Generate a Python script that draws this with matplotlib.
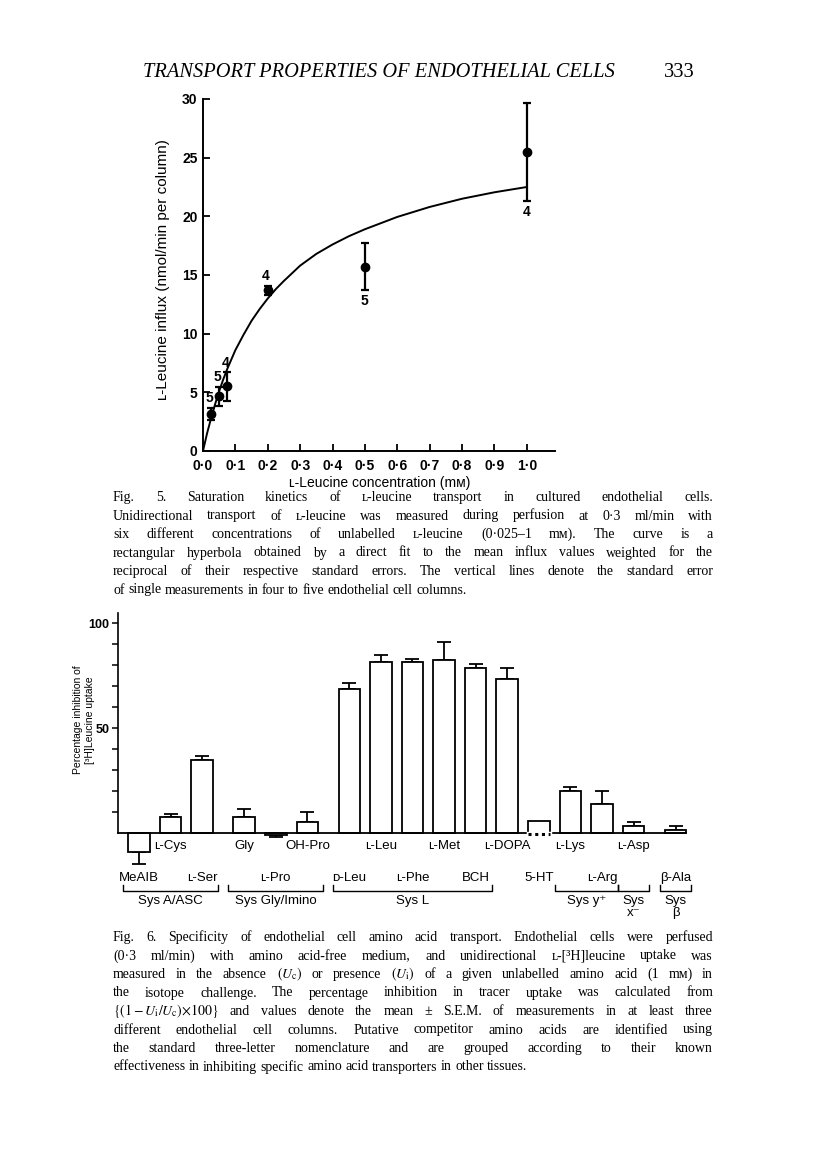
import matplotlib
matplotlib.use("Agg")
import matplotlib.pyplot as plt
import matplotlib.transforms as mtrans
from matplotlib.font_manager import FontProperties

W, H = 816, 1169
SANS = ['Liberation Sans', 'DejaVu Sans']
SERIF = ['Liberation Serif', 'DejaVu Serif', 'DejaVu Sans']
plt.rcParams['font.family'] = SANS
plt.rcParams['mathtext.fontset'] = 'stix'

# ---- Fig. 5: L-leucine influx vs concentration
conc = [0.025, 0.05, 0.075, 0.2, 0.5, 1.0]
influx = [3.15, 4.65, 5.5, 13.7, 15.7, 25.5]
influx_se = [0.55, 0.8, 1.2, 0.4, 2.0, 4.2]
n_columns = [5, 5, 4, 4, 5, 4]
# fitted hyperbola
fit_conc = [0, 0.0125, 0.025, 0.0375, 0.05, 0.0625, 0.075, 0.0875, 0.1, 0.125, 0.15, 0.175,
            0.2, 0.225, 0.25, 0.3, 0.35, 0.4, 0.45, 0.5, 0.6, 0.7, 0.8, 0.9, 1.0]
fit_influx = [0, 1.5, 2.8, 4.0, 5.1, 6.1, 7.0, 7.8, 8.6, 9.9, 11.1, 12.1,
              13.0, 13.8, 14.5, 15.8, 16.8, 17.6, 18.3, 18.9, 19.95, 20.8, 21.5, 22.05, 22.5]
conc_ticks = [0.0, 0.1, 0.2, 0.3, 0.4, 0.5, 0.6, 0.7, 0.8, 0.9, 1.0]
influx_ticks = [0, 5, 10, 15, 20, 25, 30]

# ---- Fig. 6: % inhibition of [3H]leucine uptake
acids = ['MeAIB', 'ʟ-Cys', 'ʟ-Ser', 'Gly', 'ʟ-Pro', 'OH-Pro', 'ᴅ-Leu', 'ʟ-Leu', 'ʟ-Phe',
         'ʟ-Met', 'BCH', 'ʟ-DOPA', '5-HT', 'ʟ-Lys', 'ʟ-Arg', 'ʟ-Asp', 'β-Ala']
inhibition = [-9, 8, 35, 8, -1, 5.5, 68.5, 81.5, 81.5, 82.5, 78.5, 73.5, 6, 20, 14, 3.5, 1.5]
inhibition_sem = [5.5, 1.4, 2, 3.8, 0.8, 4.8, 3.3, 3.3, 1.5, 8.5, 2, 5, 0, 2, 6.3, 2, 2]
systems = ['Sys A/ASC', 'Sys Gly/Imino', 'Sys L', 'Sys y⁺', 'Sys\nx⁻', 'Sys\nβ']
system_first = [0, 3, 6, 13, 15, 16]
system_last = [2, 5, 10, 14, 15, 16]

caption5 = [
    "Fig. 5. Saturation kinetics of ʟ-leucine transport in cultured endothelial cells.",
    "Unidirectional transport of ʟ-leucine was measured during perfusion at 0·3 ml/min with",
    "six different concentrations of unlabelled ʟ-leucine (0·025–1 mᴍ). The curve is a",
    "rectangular hyperbola obtained by a direct fit to the mean influx values weighted for the",
    "reciprocal of their respective standard errors. The vertical lines denote the standard error",
    "of single measurements in four to five endothelial cell columns.",
]
caption6 = [
    "Fig. 6. Specificity of endothelial cell amino acid transport. Endothelial cells were perfused",
    "(0·3 ml/min) with amino acid-free medium, and unidirectional ʟ-[³H]leucine uptake was",
    r"measured in the absence $(U_\mathrm{c})$ or presence $(U_\mathrm{i})$ of a given unlabelled amino acid (1 mᴍ) in",
    "the isotope challenge. The percentage inhibition in tracer uptake was calculated from",
    r"$\{(1-U_\mathrm{i}/U_\mathrm{c}){\times}100\}$ and values denote the mean ± S.E.M. of measurements in at least three",
    "different endothelial cell columns. Putative competitor amino acids are identified using",
    "the standard three-letter nomenclature and are grouped according to their known",
    "effectiveness in inhibiting specific amino acid transporters in other tissues.",
]


def fx(px):
    return px / W


def fy(py):
    return 1 - py / H


fig = plt.figure(figsize=(W / 100, H / 100), dpi=100)
rend = fig.canvas.get_renderer()


def justified(lines, x0, x1, y0, dy, size):
    # one text per word on a shared baseline, gaps stretched to fill the line
    plain = FontProperties(family='Liberation Serif', size=size)
    mixed = FontProperties(family=SERIF, size=size)
    for k, line in enumerate(lines):
        words = line.split()
        ts = []
        for w in words:
            prop = plain if all(ord(c) < 256 for c in w) else mixed
            ts.append(fig.text(0, fy(y0 + k * dy), w, fontproperties=prop, va='baseline'))
        ws = [t.get_window_extent(rend).width for t in ts]
        if k == len(lines) - 1:
            gap = 0.25 * size * 100 / 72
        else:
            gap = (x1 - x0 - sum(ws)) / (len(words) - 1)
        x = x0
        for t, w in zip(ts, ws):
            t.set_x(fx(x))
            x += w + gap


# running head
head = fig.text(fx(143), fy(77), 'TRANSPORT PROPERTIES OF ENDOTHELIAL CELLS', family='Liberation Serif',
                style='italic', fontsize=12, va='baseline')
hw = head.get_window_extent(rend).width
head.set_fontsize(12 * 470 / hw)
fig.text(fx(695), fy(77), '333', family='Liberation Serif', fontsize=12 * 470 / hw,
         va='baseline', ha='right')

# ---------------- Fig. 5
ax1 = fig.add_axes([fx(203), fy(451), (555 - 203) / W, (451 - 99) / H])
ax1.plot(fit_conc, fit_influx, color='black', lw=1.4, zorder=2)
ax1.errorbar(conc, influx, yerr=influx_se, fmt='o', color='black', ms=6, elinewidth=1.6,
             capsize=3, capthick=1.6, zorder=3, clip_on=False)
label_above = [True, True, True, True, False, False]
for c, v, e, n, up in zip(conc, influx, influx_se, n_columns, label_above):
    if up:
        ax1.annotate(str(n), (c, v + e), xytext=(-1.5, 2), textcoords='offset points',
                     ha='center', va='bottom', fontsize=10, fontweight='bold')
    else:
        ax1.annotate(str(n), (c, v - e), xytext=(0, -2.5), textcoords='offset points',
                     ha='center', va='top', fontsize=10, fontweight='bold')
ax1.set_xlim(0, 1.087)
ax1.set_ylim(0, 30)
ax1.set_xticks(conc_ticks)
ax1.set_xticklabels([f'{v:.1f}'.replace('.', '·') for v in conc_ticks], fontweight='bold')
ax1.set_yticks(influx_ticks)
ax1.set_yticklabels([str(v) for v in influx_ticks], fontweight='bold')
ax1.tick_params(direction='in', length=5, width=1.3, labelsize=10)
ax1.tick_params(axis='x', pad=5.5)
ax1.tick_params(axis='y', pad=4)
for s in ['top', 'right']:
    ax1.spines[s].set_visible(False)
for s in ['left', 'bottom']:
    ax1.spines[s].set_linewidth(1.4)
fig.text(fx(163), fy(270), 'ʟ-Leucine influx (nmol/min per column)', rotation=90,
         ha='center', va='center', fontsize=11)
fig.text(fx(380), fy(483), 'ʟ-Leucine concentration (mᴍ)', ha='center', va='center', fontsize=10)

justified(caption5, 113, 713, 501, 18.5, 10)

# ---------------- Fig. 6
ax2 = fig.add_axes([fx(118), fy(867), (700 - 118) / W, (867 - 612.8) / H])
pos = []
p = 0.0
for i in range(len(acids)):
    if i in (3, 6, 16):
        p += 0.33
    pos.append(p)
    p += 1
bw = 0.685
ax2.bar(pos, inhibition, width=bw, color='white', edgecolor='black', linewidth=1.3, zorder=2)
lo = [e if v < 0 else 0 for v, e in zip(inhibition, inhibition_sem)]
hi = [e if v >= 0 else 0 for v, e in zip(inhibition, inhibition_sem)]
for x, v, l, h in zip(pos, inhibition, lo, hi):
    if l == 0 and h == 0:
        continue
    ax2.errorbar([x], [v], yerr=[[l], [h]], fmt='none', ecolor='black', elinewidth=1.3,
                 capsize=5, capthick=1.3, zorder=1, clip_on=False)
ax2.set_xlim(-0.665, 17.765)
ax2.set_ylim(-16, 105)
ax2.plot([-0.665, pos[-1] + bw / 2], [0, 0], color='black', lw=1.3, zorder=3, clip_on=False)
# 5-HT bar base is dotted
i5 = acids.index('5-HT')
ax2.plot([pos[i5] - bw / 2, pos[i5] + bw / 2], [0, 0], color='white', lw=2.5, zorder=4)
ax2.plot([pos[i5] - bw / 2, pos[i5] + bw / 2], [-0.4, -0.4], color='black', lw=2.2,
         ls=(0, (1, 1.2)), zorder=5)
ax2.set_xticks([])
ax2.set_yticks(range(10, 101, 10))
ax2.set_yticklabels(['50' if t == 50 else '100' if t == 100 else '' for t in range(10, 101, 10)],
                    fontweight='bold')
ax2.tick_params(axis='y', direction='out', length=4, width=1.1, labelsize=9, pad=2)
for s in ['top', 'right', 'bottom']:
    ax2.spines[s].set_visible(False)
ax2.spines['left'].set_bounds(0, 105)
ax2.spines['left'].set_linewidth(1.2)

blend = mtrans.blended_transform_factory(ax2.transData, fig.transFigure)
for i, (x, name) in enumerate(zip(pos, acids)):
    yrow = 846 if i % 2 else 878
    ax2.text(x, fy(yrow), name, transform=blend, ha='center', va='center', fontsize=9.5,
             clip_on=False)
for name, a, b in zip(systems, system_first, system_last):
    xl = pos[a] - bw / 2 - 0.16
    xr = pos[b] + bw / 2 + 0.16
    ax2.plot([xl, xl, xr, xr], [fy(885), fy(891), fy(891), fy(885)], transform=blend,
             color='black', lw=1.0, clip_on=False)
    ax2.text((xl + xr) / 2, fy(895), name, transform=blend, ha='center', va='top',
             fontsize=9.5, linespacing=1.0, clip_on=False)

fig.text(fx(78), fy(720), 'Percentage inhibition of', rotation=90, ha='center', va='center', fontsize=7.5)
fig.text(fx(90), fy(720), '[³H]Leucine uptake', rotation=90, ha='center', va='center', fontsize=7.5)

justified(caption6, 113, 713, 941, 18.5, 10)

fig.savefig('out.png', dpi=100, facecolor='white')
